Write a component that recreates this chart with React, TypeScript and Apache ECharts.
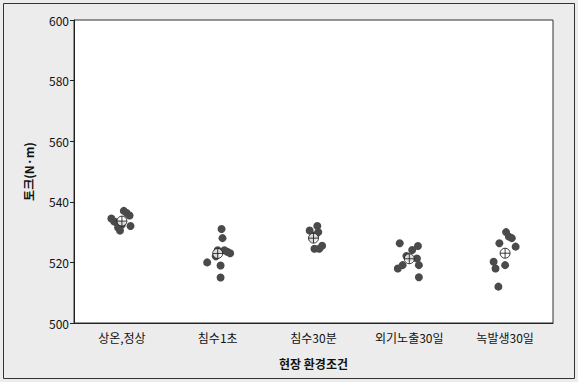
import React, { useEffect, useRef } from "react";
import * as echarts from "echarts";

// 현장 환경조건별 토크 측정값 (개별 측정점 + 평균)
const categories = ["상온,정상", "침수1초", "침수30분", "외기노출30일", "녹발생30일"];

const torqueRoom = [537, 536.3, 535.5, 534.5, 533.5, 533, 531.5, 530.5, 532, 532.5];
const torqueDip1s = [531, 528, 524, 524, 523.5, 523, 520, 519, 515, 522];
const torqueDip30m = [532, 530.5, 530, 524.5, 524.5, 525.5, 528, 529];
const torqueExposed = [526.3, 525.4, 524.1, 522.1, 521.3, 518, 519.1, 519.1, 515.1, 521.5];
const torqueRusted = [530, 528.5, 528, 525.2, 526.3, 520.2, 518, 519.1, 512];

// horizontal spread of each point inside its category (fraction of category width)
const jitterRoom = [0.02, 0.05, 0.08, -0.11, -0.08, -0.05, -0.04, -0.02, 0.09, 0.0];
const jitterDip1s = [0.04, 0.05, 0.0, 0.07, 0.1, 0.13, -0.11, 0.03, 0.03, -0.02];
const jitterDip30m = [0.04, -0.04, 0.05, 0.01, 0.06, 0.09, -0.01, 0.02];
const jitterExposed = [-0.1, 0.09, 0.03, -0.03, 0.08, -0.12, -0.07, 0.1, 0.1, 0.0];
const jitterRusted = [0.01, 0.04, 0.07, 0.11, -0.06, -0.12, -0.1, 0.0, -0.07];

const yTicks = [500, 520, 540, 560, 580, 600];

const groups = [torqueRoom, torqueDip1s, torqueDip30m, torqueExposed, torqueRusted];
const jitters = [jitterRoom, jitterDip1s, jitterDip30m, jitterExposed, jitterRusted];

const FONT = "'Noto Sans CJK KR', 'Noto Sans', sans-serif";
const MEAN_SYMBOL =
  "path://M0,-10 A10,10 0 1 1 0,10 A10,10 0 1 1 0,-10 Z M-10,0 L10,0 M0,-10 L0,10";

export default function App() {
  const ref = useRef<HTMLDivElement>(null);

  useEffect(() => {
    document.body.style.margin = "0";
    if (!ref.current) return;
    const chart = echarts.init(ref.current, undefined, { renderer: "svg" });

    const points: number[][] = [];
    groups.forEach((vals, gi) => {
      vals.forEach((v, i) => points.push([gi + jitters[gi][i], v]));
    });
    const means = groups.map((vals, gi) => [
      gi,
      vals.reduce((a, b) => a + b, 0) / vals.length,
    ]);

    chart.setOption({
      animation: false,
      backgroundColor: "#ececec",
      graphic: [
        {
          type: "rect",
          shape: { x: 3.5, y: 3.5, width: 571, height: 375 },
          style: { fill: "none", stroke: "#333", lineWidth: 1 },
          silent: true,
        },
      ],
      grid: {
        left: 74,
        right: 25,
        top: 20,
        bottom: 59,
        show: true,
        backgroundColor: "#ffffff",
        borderColor: "#333",
        borderWidth: 1,
      },
      xAxis: [
        {
          type: "category",
          data: categories,
          boundaryGap: true,
          name: "현장 환경조건",
          nameLocation: "middle",
          nameGap: 34,
          nameTextStyle: { fontFamily: FONT, fontSize: 12, fontWeight: "bold", color: "#111" },
          axisLine: { lineStyle: { color: "#222" } },
          axisTick: { alignWithLabel: true, length: 4, lineStyle: { color: "#222" } },
          axisLabel: { fontFamily: FONT, fontSize: 12, color: "#111", margin: 8 },
        },
        {
          type: "value",
          min: -0.5,
          max: 4.5,
          show: false,
        },
      ],
      yAxis: {
        type: "value",
        min: yTicks[0],
        max: yTicks[yTicks.length - 1],
        interval: 20,
        name: "토크(N·m)",
        nameLocation: "middle",
        nameGap: 40,
        nameRotate: 90,
        nameTextStyle: { fontFamily: FONT, fontSize: 12, fontWeight: "bold", color: "#111" },
        axisLine: { show: true, onZero: false, lineStyle: { color: "#222" } },
        axisTick: { show: true, length: 4, lineStyle: { color: "#222" } },
        axisLabel: { fontFamily: FONT, fontSize: 12, color: "#111", margin: 5 },
        splitLine: { show: false },
      },
      series: [
        {
          type: "scatter",
          xAxisIndex: 1,
          data: points,
          symbol: "circle",
          symbolSize: 8,
          itemStyle: { color: "#4a4a4a", opacity: 1 },
        },
        {
          type: "scatter",
          xAxisIndex: 1,
          data: means,
          symbol: MEAN_SYMBOL,
          symbolSize: 10,
          z: 5,
          itemStyle: { color: "#ffffff", borderColor: "#111", borderWidth: 1 },
        },
      ],
    });

    return () => chart.dispose();
  }, []);

  return <div ref={ref} style={{ width: 578, height: 382 }} />;
}
